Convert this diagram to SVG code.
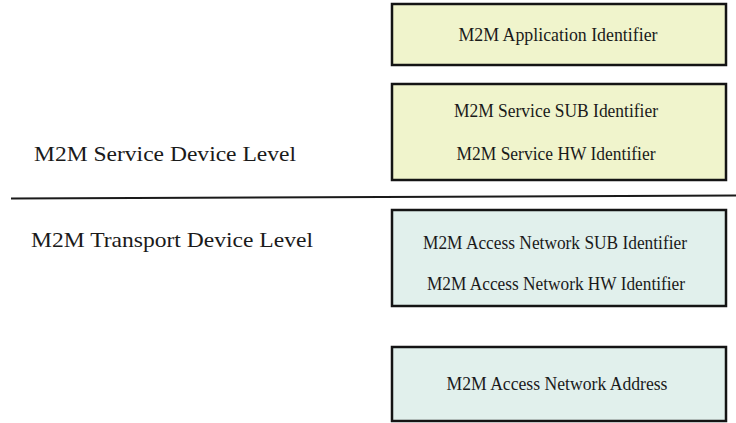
<svg xmlns="http://www.w3.org/2000/svg" width="736" height="423" viewBox="0 0 736 423">
  <style>
    .box { stroke: #141414; stroke-width: 2.5; }
    .svc { fill: #f0f4cc; }
    .trn { fill: #e1f0ec; }
    .lbl { font-family: "Liberation Serif", "Times New Roman", serif; font-size: 18px; fill: #1a1a1a; text-anchor: middle; }
    .lvl { font-family: "Liberation Serif", "Times New Roman", serif; font-size: 22px; fill: #1a1a1a; }
  </style>
  <rect width="736" height="423" fill="#ffffff"/>

  <!-- level captions -->
  <g id="service-level">
    <text class="lvl" x="34" y="161" textLength="262" lengthAdjust="spacingAndGlyphs">M2M Service Device Level</text>
  </g>
  <g id="transport-level">
    <text class="lvl" x="31" y="247" textLength="282" lengthAdjust="spacingAndGlyphs">M2M Transport Device Level</text>
  </g>

  <!-- separator between the two levels -->
  <g id="connectors">
    <line x1="11" y1="198.5" x2="736" y2="195.5" stroke="#1a1a1a" stroke-width="2"/>
  </g>

  <g id="app-id">
    <rect class="box svc" x="392" y="4" width="334" height="61"/>
    <text class="lbl" x="558" y="41" textLength="199" lengthAdjust="spacingAndGlyphs">M2M Application Identifier</text>
  </g>

  <g id="service-ids">
    <rect class="box svc" x="392" y="84" width="334" height="96"/>
    <text class="lbl" x="556" y="117" textLength="204" lengthAdjust="spacingAndGlyphs">M2M Service SUB Identifier</text>
    <text class="lbl" x="556" y="160" textLength="199" lengthAdjust="spacingAndGlyphs">M2M Service HW Identifier</text>
  </g>

  <g id="access-ids">
    <rect class="box trn" x="392" y="210" width="334" height="96"/>
    <text class="lbl" x="555" y="249" textLength="264" lengthAdjust="spacingAndGlyphs">M2M Access Network SUB Identifier</text>
    <text class="lbl" x="556" y="290" textLength="258" lengthAdjust="spacingAndGlyphs">M2M Access Network HW Identifier</text>
  </g>

  <g id="access-address">
    <rect class="box trn" x="392" y="347" width="334" height="74"/>
    <text class="lbl" x="557" y="390" textLength="221" lengthAdjust="spacingAndGlyphs">M2M Access Network Address</text>
  </g>
</svg>
